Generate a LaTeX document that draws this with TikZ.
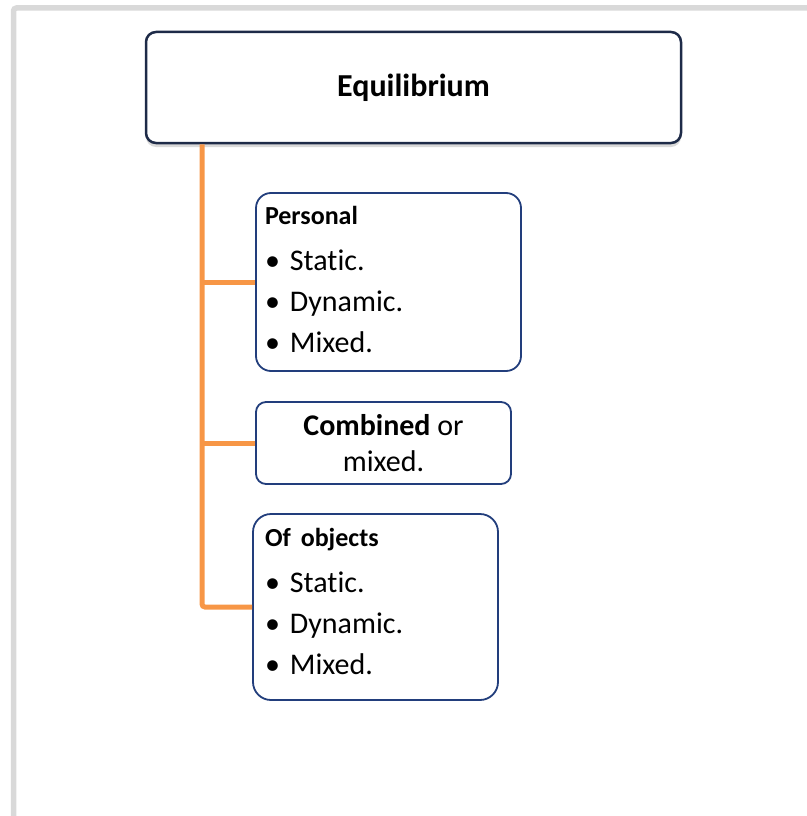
\documentclass[tikz,border=0pt]{standalone}
\usepackage{fontspec}
\setmainfont[Ligatures=NoCommon]{Carlito}
\usetikzlibrary{shadows}
\definecolor{trunkorange}{HTML}{F79646}
\definecolor{boxnavy}{HTML}{223E7C}
\definecolor{headnavy}{HTML}{1E2B48}
\definecolor{framegray}{HTML}{D9D9D9}

\newcommand{\fsz}[2]{\fontsize{#1}{#2}\selectfont}
\newcommand{\lowpad}[1]{\rule[-#1]{0pt}{#1}}

\begin{document}
\begin{tikzpicture}[
        x=1pt, y=-1pt,
        frame/.style={framegray, line width=5.5pt, rounded corners=3pt},
        headbox/.style={draw=headnavy, line width=2.5pt, rounded corners=10pt, fill=white,
            drop shadow={shadow xshift=0pt, shadow yshift=-4pt, opacity=0.3}},
        itembox/.style={draw=boxnavy, line width=1.8pt, fill=white, inner sep=0pt},
        listtext/.style={align=left, font=\fsz{30}{41}},
        branch/.style={trunkorange, line width=5pt, rounded corners=3pt}
    ]
    \useasboundingbox (0,0) rectangle (806,816);

    %gray frame of the page
    \draw[frame] (13.5,830) -- (13.5,8) -- (820,8);

    %Draw the title box
    \node[headbox, minimum width=535pt, minimum height=111pt,
          font=\bfseries\fsz{32}{38}] (equil) at (413.5,87.5) {Equilibrium};

    %the three boxes
    \node[itembox, rounded corners=15pt, minimum width=265pt, minimum height=178pt,
          listtext, text width=247pt] (personal) at (388.5,282)
        {{\bfseries\fsz{26}{41}Personal}\\[5pt]
         \textbullet\ Static.\\
         \textbullet\ Dynamic.\\
         \textbullet\ Mixed.\lowpad{5pt}};
    \node[itembox, rounded corners=10pt, minimum width=255pt, minimum height=82pt,
          align=center, font=\fsz{30}{36}] (combined) at (383.5,443)
        {\textbf{Combined} or\\mixed.};
    \node[itembox, rounded corners=18pt, minimum width=245pt, minimum height=186pt,
          listtext, text width=221pt] (objects) at (375.5,607)
        {{\bfseries\fsz{26}{41}Of objects}\\[5pt]
         \textbullet\ Static.\\
         \textbullet\ Dynamic.\\
         \textbullet\ Mixed.\lowpad{12pt}};

    %orange connectors
    \coordinate (trunk) at (202,0);
    \draw[branch] (equil.south -| trunk) |- (objects.west);
    \draw[branch] (personal.west -| trunk) -- (personal.west);
    \draw[branch] (combined.west -| trunk) -- (combined.west);
\end{tikzpicture}
\end{document}
